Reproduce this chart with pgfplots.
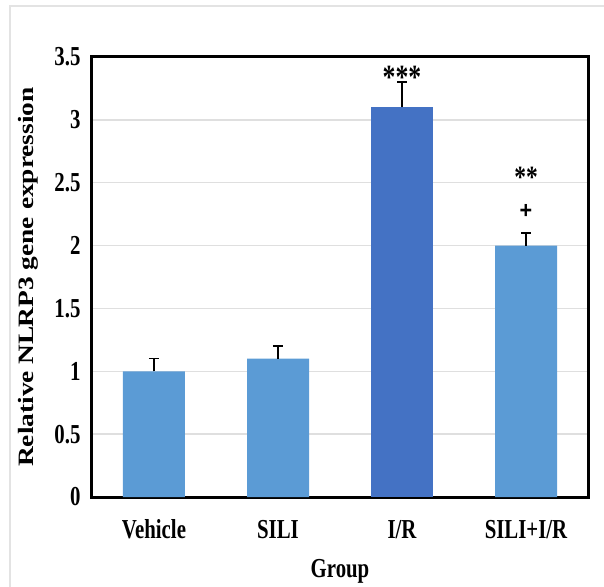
\documentclass[border=0pt]{standalone}
\usepackage{pgfplots}
\pgfplotsset{compat=1.18}
\usepackage{fontspec}
\setmainfont{Liberation Serif}[FakeStretch=0.76]
\newfontfamily\ylabfont{Liberation Serif}
\newfontfamily\plusfont{Liberation Sans}[FakeStretch=0.9]
\definecolor{barA}{HTML}{5B9BD5}
\definecolor{barB}{HTML}{4472C4}
\begin{document}
\begin{tikzpicture}
\useasboundingbox (-92bp,-90bp) rectangle (512bp,497bp);
\draw[color=gray!22, line width=1.5bp] (-82bp,-90bp) -- (-82bp,491bp) -- (512bp,491bp);
\begin{axis}[
  at={(0,0)}, anchor=south west,
  scale only axis, width=496bp, height=440bp,
  xmin=-0.5, xmax=3.5, ymin=0, ymax=3.5,
  xtick={0,1,2,3}, xticklabels={Vehicle,SILI,I/R,SILI+I/R},
  ytick={0,0.5,1,1.5,2,2.5,3,3.5},
  major tick length=0pt,
  axis line style={black, line width=3bp},
  ymajorgrids, grid style={gray!25, line width=1.5bp},
  /pgf/number format/assume math mode=true,
  ticklabel style={font=\bfseries\fontsize{27.5}{27.5}\selectfont},
  xticklabel style={anchor=base, yshift=-41bp},
  yticklabel style={xshift=-8bp},
  xlabel={Group},
  xlabel style={font=\bfseries\fontsize{27.5}{27.5}\selectfont, at={(axis description cs:0.5,0)}, anchor=base, yshift=-80bp},
  ylabel={Relative NL\kern-0.04em RP3 gene expression},
  ylabel style={font=\ylabfont\bfseries\fontsize{27.5}{27.5}\selectfont, at={(axis description cs:-0.128,0.5)}, anchor=center, yscale=0.8},
  clip=false,
]
\addplot[ybar, bar width=0.5, bar shift=0pt, fill=barA, draw=none,
  error bars/.cd, y dir=plus, y explicit,
  error bar style={black, line width=1.3bp},
  error mark options={rotate=90, mark size=5bp, line width=1.3bp, black}]
  table[x=x, y=y, y error=e] {
x y e
0 1.0 0.1
1 1.1 0.1
3 2.0 0.1
};
\addplot[ybar, bar width=0.5, bar shift=0pt, fill=barB, draw=none,
  error bars/.cd, y dir=plus, y explicit,
  error bar style={black, line width=1.3bp},
  error mark options={rotate=90, mark size=5bp, line width=1.3bp, black}]
  table[x=x, y=y, y error=e] {
x y e
2 3.1 0.2
};
\node[anchor=base, inner sep=0pt, font=\bfseries\fontsize{34}{34}\selectfont] at (axis cs:2,3.25) {***};
\node[anchor=base, inner sep=0pt, font=\bfseries\fontsize{31}{31}\selectfont] at (axis cs:3,2.46) {**};
\node[anchor=center, inner sep=0pt, font=\plusfont\bfseries\fontsize{24}{24}\selectfont] at (axis cs:3,2.27) {+};
\end{axis}
\end{tikzpicture}
\end{document}
